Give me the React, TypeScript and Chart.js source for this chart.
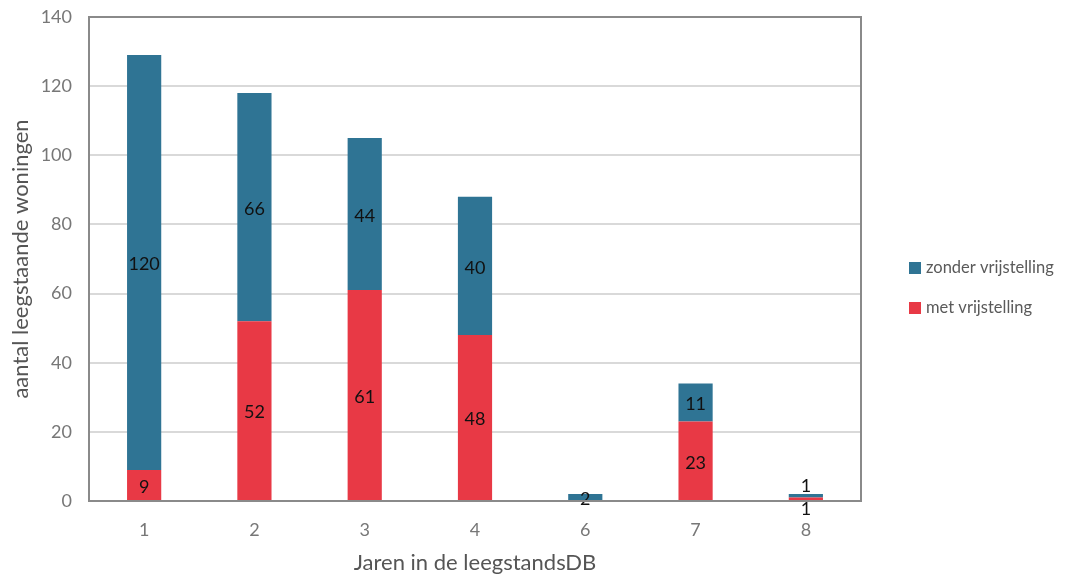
import React, { useEffect, useRef } from "react";
import { Chart, registerables } from "chart.js";

Chart.register(...registerables);

const jaren = ["1", "2", "3", "4", "6", "7", "8"];
const metVrijstelling = [9, 52, 61, 48, 0, 23, 1];
const zonderVrijstelling = [120, 66, 44, 40, 2, 11, 1];
const yTicks = [0, 20, 40, 60, 80, 100, 120, 140];

const BLUE = "#2f7494";
const RED = "#e83945";
const FONT = "Lato, 'Open Sans', sans-serif";

// Frame around the plot area
const framePlugin = {
  id: "frame",
  afterDraw(chart: any) {
    const { ctx, chartArea: a } = chart;
    ctx.save();
    ctx.strokeStyle = "#8a8a8a";
    ctx.lineWidth = 2;
    ctx.strokeRect(a.left, a.top, a.right - a.left, a.bottom - a.top);
    ctx.restore();
  },
};

// Value labels in the middle of each stacked segment
const valueLabelPlugin = {
  id: "valueLabels",
  afterDatasetsDraw(chart: any) {
    const { ctx } = chart;
    ctx.save();
    ctx.font = `18px ${FONT}`;
    ctx.fillStyle = "#111";
    ctx.textAlign = "center";
    ctx.textBaseline = "middle";
    const n = chart.data.labels.length;
    for (let i = 0; i < n; i++) {
      const bottom = chart.getDatasetMeta(0).data[i];
      const top = chart.getDatasetMeta(1).data[i];
      const vb = chart.data.datasets[0].data[i];
      const vt = chart.data.datasets[1].data[i];
      const tiny = vb > 0 && vt > 0 && Math.abs(bottom.base - top.y) < 14;
      if (vb > 0) {
        const y = tiny ? bottom.base + 9 : (bottom.y + bottom.base) / 2 + 2;
        ctx.fillText(String(vb), bottom.x, y);
      }
      if (vt > 0) {
        const y = tiny ? top.y - 8 : (top.y + top.base) / 2 + 2;
        ctx.fillText(String(vt), top.x, y);
      }
    }
    ctx.restore();
  },
};

// Legend to the right of the plot
const legendPlugin = {
  id: "sideLegend",
  afterDraw(chart: any) {
    const { ctx } = chart;
    const items = [
      { text: chart.data.datasets[1].label, color: chart.data.datasets[1].backgroundColor, y: 268 },
      { text: chart.data.datasets[0].label, color: chart.data.datasets[0].backgroundColor, y: 308 },
    ];
    ctx.save();
    ctx.font = `16.5px ${FONT}`;
    ctx.textBaseline = "middle";
    ctx.textAlign = "left";
    items.forEach((it) => {
      ctx.fillStyle = it.color;
      ctx.fillRect(909, it.y - 6, 12, 12);
      ctx.fillStyle = "#5a5a5a";
      ctx.fillText(it.text, 926, it.y);
    });
    ctx.restore();
  },
};

export default function App() {
  const ref = useRef<HTMLCanvasElement | null>(null);

  useEffect(() => {
    document.body.style.margin = "0";
    const chart = new Chart(ref.current as HTMLCanvasElement, {
      type: "bar",
      data: {
        labels: jaren,
        datasets: [
          {
            label: "met vrijstelling",
            data: metVrijstelling,
            backgroundColor: RED,
            barPercentage: 0.31,
            categoryPercentage: 1,
          },
          {
            label: "zonder vrijstelling",
            data: zonderVrijstelling,
            backgroundColor: BLUE,
            barPercentage: 0.31,
            categoryPercentage: 1,
          },
        ],
      },
      options: {
        animation: false,
        responsive: false,
        maintainAspectRatio: false,
        layout: { padding: { top: 17, right: 230, left: 0, bottom: 0 } },
        plugins: {
          legend: { display: false },
          tooltip: { enabled: false },
        },
        scales: {
          x: {
            stacked: true,
            grid: { display: false, drawTicks: false },
            border: { display: false },
            ticks: { color: "#777", font: { family: FONT, size: 18 }, padding: 18 },
            title: {
              display: true,
              text: "Jaren in de leegstandsDB",
              color: "#555",
              font: { family: FONT, size: 22 },
              padding: { top: 0, bottom: 3 },
            },
            afterFit(scale: any) {
              scale.height = 78;
            },
          },
          y: {
            stacked: true,
            min: 0,
            max: 140,
            afterBuildTicks(scale: any) {
              scale.ticks = yTicks.map((v) => ({ value: v }));
            },
            grid: { color: "#d9d9d9", lineWidth: 2, drawTicks: false },
            border: { display: false },
            ticks: { color: "#777", font: { family: FONT, size: 18 }, padding: 17 },
            title: {
              display: true,
              text: "aantal leegstaande woningen",
              color: "#555",
              font: { family: FONT, size: 22 },
              padding: { top: 8, bottom: 0 },
            },
            afterFit(scale: any) {
              scale.width = 89;
              scale.paddingTop = 0;
              scale.paddingBottom = 0;
            },
          },
        },
      },
      plugins: [framePlugin, valueLabelPlugin, legendPlugin],
    });
    return () => chart.destroy();
  }, []);

  return (
    <div style={{ position: "fixed", left: 0, top: 0, width: 1091, height: 579, background: "#fff" }}>
      <canvas ref={ref} width={1091} height={579} />
    </div>
  );
}
